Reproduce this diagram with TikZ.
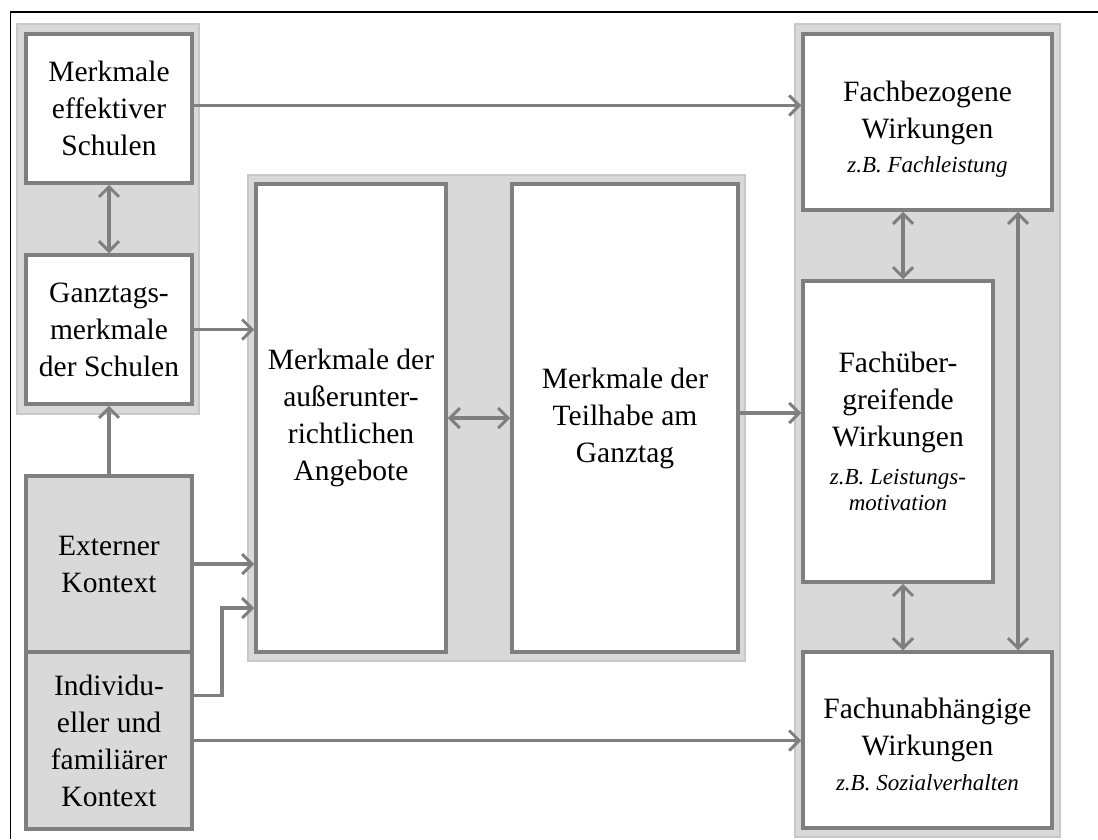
\documentclass[tikz,border=0pt]{standalone}
\usepackage{fontspec}
\setmainfont{Liberation Serif}
\usetikzlibrary{arrows.meta,calc}
\definecolor{boxline}{HTML}{7F7F7F}
\definecolor{panelfill}{HTML}{D9D9D9}
\definecolor{panelline}{HTML}{C8C8C8}
\tikzset{
  box/.style={draw=boxline, line width=3.5pt, fill=white, inner sep=0pt, align=center,
    font=\fontsize{29.5}{37}\selectfont},
  ctxbox/.style={box, fill=panelfill},
  panel/.style={fill=panelfill, draw=panelline, line width=2.5pt},
  arr/.style={draw=boxline, line width=3.8pt, -{Straight Barb[length=10pt,width=20pt,line width=3pt]}},
  darr/.style={draw=boxline, line width=3.8pt, {Straight Barb[length=10pt,width=20pt,line width=3pt]}-{Straight Barb[length=10pt,width=20pt,line width=3pt]}}
}
\newcommand{\exa}[1]{{\fontsize{23}{26}\selectfont\itshape #1}}
\begin{document}
\begin{tikzpicture}[x=1pt,y=-1pt]
\useasboundingbox (0,0) rectangle (1098,839);
% frame
\draw[black, line width=1.2pt] (10.5,839) -- (10.5,12) -- (1098,12);
% panels
\path[panel] (17,24) rectangle (199,414);
\path[panel] (248,175) rectangle (745,661);
\path[panel] (795,24) rectangle (1060,837);
% boxes
\node[box, minimum width=166pt, minimum height=149pt] (eff) at (109,108.5) {Merkmale\\effektiver\\Schulen};
\node[box, minimum width=166pt, minimum height=149pt] (ganz) at (109,329.5) {Ganztags-\\merkmale\\der Schulen};
\node[ctxbox, minimum width=166pt, minimum height=176pt] (ext) at (109,564) {Externer\\Kontext};
\node[ctxbox, minimum width=166pt, minimum height=177pt] (ind) at (109,740.5) {Individu-\\eller und\\familiärer\\Kontext};
\node[box, minimum width=190pt, minimum height=468pt] (ang) at (351,418) {Merkmale der\\außerunter-\\richtlichen\\Angebote};
\node[box, minimum width=226pt, minimum height=468pt] (teil) at (625,418) {Merkmale der\\Teilhabe am\\Ganztag};
\node[box, minimum width=249pt, minimum height=176pt] (fb) at (927.5,122) {\rule{0pt}{35pt}Fachbezogene\\Wirkungen\\[-3pt]\exa{z.B. Fachleistung}};
\node[box, minimum width=190pt, minimum height=301pt] (fue) at (898,431.5) {Fachüber-\\greifende\\Wirkungen\\[1pt]\exa{z.B. Leistungs-}\\[-11pt]\exa{motivation}};
\node[box, minimum width=249pt, minimum height=176pt] (fu) at (927.5,740) {\rule{0pt}{30pt}Fachunabhängige\\Wirkungen\\[-2pt]\exa{z.B. Sozialverhalten}};
% connectors
\draw[darr] (eff.south) -- (ganz.north);
\draw[arr] (ext.north) -- (ganz.south);
\draw[arr] ($(eff.east)+(0,-3)$) -- ($(fb.west |- eff.east)+(0,-3)$);
\draw[arr] (ganz.east) -- (ganz.east -| ang.west);
\draw[arr] (ext.east) -- (ext.east -| ang.west);
\draw[arr] ($(ind.east)+(0,-45)$) -| ($(ang.west)+(-32,190)$) -- ($(ang.west)+(0,190)$);
\draw[arr] (ind.east) -- (ind.east -| fu.west);
\draw[darr] (ang.east) -- (teil.west);
\draw[arr] ($(teil.east)+(0,-5)$) -- ($(fue.west |- teil.east)+(0,-5)$);
\draw[darr] ($(fue.north)+(5,0)$) -- ($(fb.south -| fue.north)+(5,0)$);
\draw[darr] ($(fue.south)+(5,0)$) -- ($(fu.north -| fue.south)+(5,0)$);
\draw[darr] ($(fb.south)+(90.5,0)$) -- ($(fu.north -| fb.south)+(90.5,0)$);
\end{tikzpicture}
\end{document}
